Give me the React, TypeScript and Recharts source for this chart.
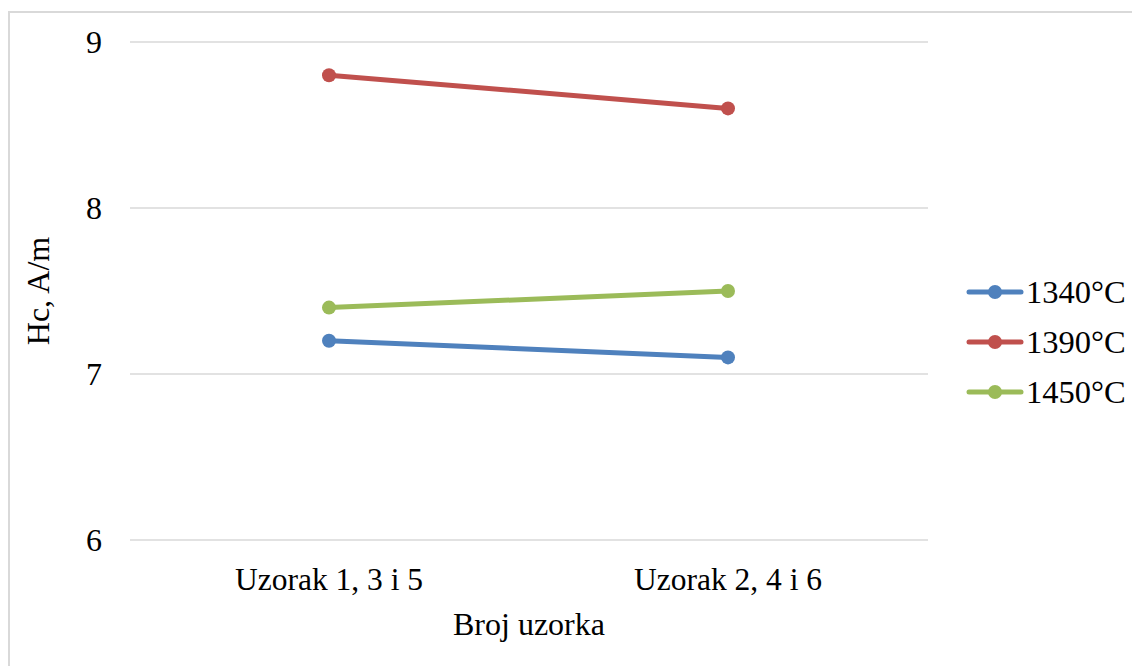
import { CartesianGrid, Legend, Line, LineChart, XAxis, YAxis } from "recharts";

const categories = ["Uzorak 1, 3 i 5", "Uzorak 2, 4 i 6"];
const s1340 = [7.2, 7.1];
const s1390 = [8.8, 8.6];
const s1450 = [7.4, 7.5];
const yTicks = [6, 7, 8, 9];

const series = [
  { key: "t1340", name: "1340°C", color: "#4f81bd", values: s1340 },
  { key: "t1390", name: "1390°C", color: "#c0504d", values: s1390 },
  { key: "t1450", name: "1450°C", color: "#9bbb59", values: s1450 },
];

const data = categories.map((cat, i) => ({
  cat,
  t1340: s1340[i],
  t1390: s1390[i],
  t1450: s1450[i],
}));

const FONT = "'Liberation Serif', 'Times New Roman', serif";

function LegendBox() {
  return (
    <div style={{ fontFamily: FONT, fontSize: 32.5, color: "#000" }}>
      {series.map((s) => (
        <div key={s.key} style={{ display: "flex", alignItems: "center", height: 50 }}>
          <svg width={58} height={20}>
            <line x1={3} y1={10} x2={55} y2={10} stroke={s.color} strokeWidth={5} strokeLinecap="round" />
            <circle cx={29} cy={10} r={7} fill={s.color} />
          </svg>
          <span style={{ marginLeft: 2, lineHeight: 1 }}>{s.name}</span>
        </div>
      ))}
    </div>
  );
}

function YLabel(props: any) {
  const vb = props.viewBox;
  const x = vb.x + 28;
  const y = vb.y + vb.height / 2;
  return (
    <text
      x={x}
      y={y}
      transform={`rotate(-90, ${x}, ${y})`}
      textAnchor="middle"
      dominantBaseline="central"
      fontFamily={FONT}
      fontSize={32}
      fill="#000"
    >
      Hc, A/m
    </text>
  );
}

export default function App() {
  return (
    <div
      style={{
        marginTop: 3,
        width: 1132,
        height: 655,
        borderLeft: "2px solid #d9d9d9",
        borderTop: "2px solid #d9d9d9",
        background: "#fff",
      }}
    >
      <LineChart
        width={1130}
        height={653}
        data={data}
        margin={{ top: 29, right: 212, left: 0, bottom: 0 }}
      >
        <CartesianGrid vertical={false} stroke="#d9d9d9" strokeWidth={1.5} />
        <XAxis
          dataKey="cat"
          axisLine={false}
          tickLine={false}
          tickSize={0}
          tickMargin={28}
          height={126}
          padding={{ left: 199, right: 200 }}
          tick={{ fontFamily: FONT, fontSize: 31.5, fill: "#000" }}
          label={{
            value: "Broj uzorka",
            position: "insideBottom",
            offset: 31,
            fontFamily: FONT,
            fontSize: 32,
            fill: "#000",
          }}
        />
        <YAxis
          width={120}
          domain={[6, 9]}
          ticks={yTicks}
          axisLine={false}
          tickLine={false}
          tickSize={0}
          tickMargin={28}
          tick={{ fontFamily: FONT, fontSize: 32, fill: "#000" }}
          label={{ content: YLabel }}
        />
        <Legend
          layout="horizontal"
          align="center"
          verticalAlign="middle"
          content={() => <LegendBox />}
          wrapperStyle={{ left: 956, top: 254, width: 184 }}
        />
        {series.map((s) => (
          <Line
            key={s.key}
            dataKey={s.key}
            name={s.name}
            stroke={s.color}
            strokeWidth={5}
            dot={{ r: 7, fill: s.color, stroke: s.color, strokeWidth: 0 }}
            activeDot={false}
            isAnimationActive={false}
          />
        ))}
      </LineChart>
    </div>
  );
}
